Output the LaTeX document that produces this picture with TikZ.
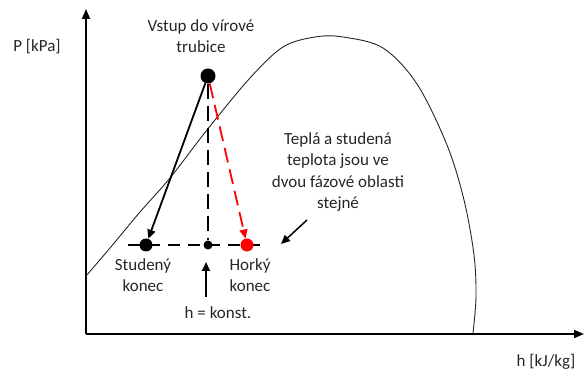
\documentclass[tikz,border=0pt]{standalone}
\usepackage{fontspec}
\setmainfont{Carlito}
\usetikzlibrary{arrows.meta}
\definecolor{txt}{HTML}{262626}
\begin{document}
\begin{tikzpicture}[x=1pt,y=-1pt,
  lbl/.style={text=txt,font=\fontsize{17}{21.5}\selectfont,align=center,inner sep=0pt},
  dotb/.style={circle,fill=black,inner sep=0pt},
  tip/.style={-{Triangle[length=9pt,width=8pt]}},
  axis/.style={line width=1.8pt,-{Triangle[length=10pt,width=8pt]}}]
\useasboundingbox (0,0) rectangle (584,371);
% axes
\coordinate (o) at (86,334);
\coordinate (ytip) at (86,9);
\coordinate (xtip) at (584,334);
\draw[axis] (o) -- (ytip);
\draw[axis] (o) -- (xtip);
\node[lbl] (plab) at (37,47) {P [kPa]};
\node[lbl] (hlab) at (546,362) {h [kJ/kg]};
% saturation dome
\draw[line width=0.9pt,black!85] plot[smooth,tension=0.55] coordinates {(86,276) (110,248) (140,212) (170,178) (207,130) (250,78) (283,47) (315,37) (343,37) (383,48) (417,84) (447,145) (464,200) (474,255) (476,297) (473,333)};
% horizontal dashed line
\coordinate (hl) at (128,245);
\coordinate (hr) at (266,245);
\draw[line width=1.3pt,dash pattern=on 12pt off 8pt] (hl) -- (hr);
% dots
\node[dotb,minimum size=15pt] (inlet) at (208,76) {};
\node[dotb,minimum size=9pt] (mid) at (208,245) {};
\node[dotb,minimum size=13pt] (cold) at (146,245) {};
\node[circle,fill=red,inner sep=0pt,minimum size=13pt] (hot) at (247,245) {};
% vertical dashed
\draw[line width=2pt,dash pattern=on 15pt off 7pt] (inlet) -- (mid);
% arrows to ends
\draw[tip,line width=1.8pt] (inlet) -- (cold);
\draw[tip,line width=1.8pt,red,dash pattern=on 15pt off 7pt] (inlet) -- (hot);
% labels
\node[lbl] (vstup) at (201,36) {Vstup do vírové\\trubice};
\node[lbl] (tepla) at (338,172) {Teplá a studená\\teplota jsou ve\\dvou fázové oblasti\\stejné};
\node[lbl] (stud) at (143,275) {Studený\\konec};
\node[lbl] (hork) at (250,275) {Horký\\konec};
\node[lbl] (hk) at (218,313) {h = konst.};
% small arrows
\coordinate (a1s) at (307,220);
\coordinate (a1e) at (281,244);
\draw[tip,line width=1.5pt] (a1s) -- (a1e);
\coordinate (a2s) at (206,297);
\coordinate (a2e) at (206,262);
\draw[tip,line width=1.8pt] (a2s) -- (a2e);
\end{tikzpicture}
\end{document}
